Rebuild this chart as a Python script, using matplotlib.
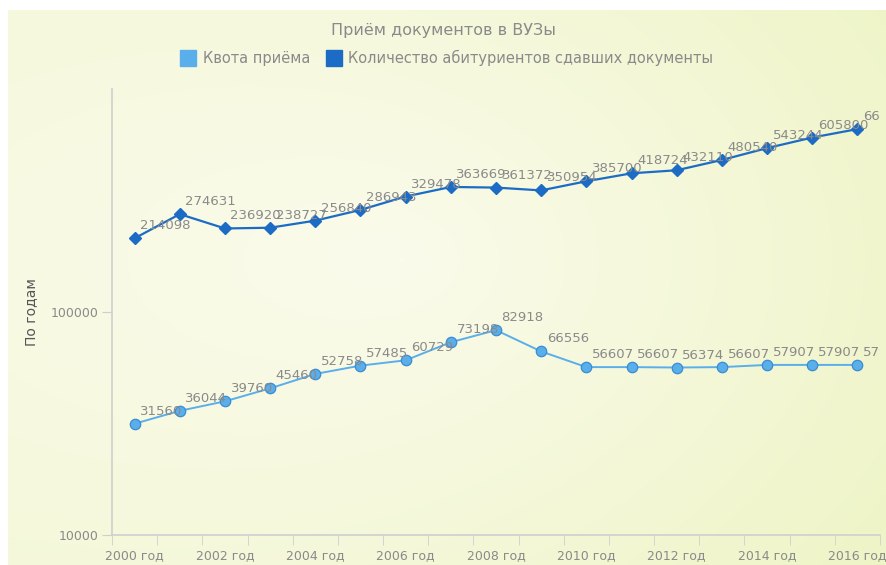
import numpy as np
import matplotlib
matplotlib.use('Agg')
import matplotlib.pyplot as plt
from matplotlib.lines import Line2D

plt.rcParams['font.family'] = ['DejaVu Sans']

years = list(range(2000, 2017))
year_labels = [str(y) + ' год' for y in years]
quota = [31560, 36044, 39760, 45460, 52758, 57485, 60729, 73198, 82918,
         66556, 56607, 56607, 56374, 56607, 57907, 57907, 57907]
applicants = [214098, 274631, 236920, 238727, 256840, 286943, 329478, 363669, 361372,
              350954, 385700, 418724, 432110, 480540, 543244, 605800, 661000]
series_names = ['Квота приёма', 'Количество абитуриентов сдавших документы']

text_col = '#8a8a8a'
c_quota = '#5aaeea'
c_quota_edge = '#3a8cd2'
c_app = '#1c6cc6'

fig = plt.figure(figsize=(8.86, 5.65), dpi=100)

# background gradient (light in the middle, more yellow at the edges / right)
bg = fig.add_axes([8/886, 0, 1 - 8/886, 555/565])
bg.set_axis_off()
xx, yy = np.meshgrid(np.linspace(0, 1, 300), np.linspace(0, 1, 200))
d = np.clip(np.sqrt(((xx - 0.45) / 0.9) ** 2 + ((yy - 0.55) / 0.9) ** 2), 0, 1)
c0 = np.array([0.99, 0.99, 0.95])
c1 = np.array([0.93, 0.955, 0.76])
t = np.clip(d * 0.65 + xx * 0.35, 0, 1)[..., None]
img = c0 * (1 - t) + c1 * t
bg.imshow(img, aspect='auto', extent=[0, 1, 0, 1], origin='lower')

ax = fig.add_axes([112/886, 30/565, 768/886, 446/565])
ax.patch.set_alpha(0)
ax.set_yscale('log')
ax.set_ylim(1e4, 1e6)
ax.set_xlim(-0.5, len(years) - 0.5)

x = np.arange(len(years))
ax.plot(x, quota, color=c_quota, lw=1.4, marker='o', ms=7.5,
        mfc=c_quota, mec=c_quota_edge, mew=0.9, zorder=3)
ax.plot(x, applicants, color=c_app, lw=1.6, marker='D', ms=6,
        mfc=c_app, mec=c_app, zorder=3)

for xi, v in zip(x, quota):
    ax.annotate(str(v), (xi, v), xytext=(4, 9), textcoords='offset points',
                ha='left', va='center', fontsize=9.5, color=text_col, clip_on=True, zorder=4)
for xi, v in zip(x, applicants):
    ax.annotate(str(v), (xi, v), xytext=(4, 9), textcoords='offset points',
                ha='left', va='center', fontsize=9.5, color=text_col, clip_on=True, zorder=4)

ax.set_xticks(x[::2])
ax.set_xticklabels(year_labels[::2])
ax.set_xticks(np.arange(-0.5, len(years)), minor=True)
ax.tick_params(axis='x', which='major', length=0, pad=10, labelsize=9, labelcolor=text_col)
ax.tick_params(axis='x', which='minor', length=7, color='#cfcfcf', direction='out')

ax.set_yticks([1e4, 1e5])
ax.set_yticklabels(['10000', '100000'])
ax.yaxis.set_minor_locator(matplotlib.ticker.NullLocator())
ax.tick_params(axis='y', which='major', length=7, color='#cfcfcf', labelsize=9,
               labelcolor=text_col, pad=3)

for s in ['top', 'right']:
    ax.spines[s].set_visible(False)
for s in ['left', 'bottom']:
    ax.spines[s].set_color('#cfcfcf')
    ax.spines[s].set_linewidth(1.2)

ax.set_ylabel('По годам', fontsize=10, color='#555555', labelpad=9)

fig.text(0.5, 535/565, 'Приём документов в ВУЗы', ha='center', va='center',
         fontsize=11.5, color=text_col)

handles = [Line2D([], [], ls='none', marker='s', ms=11, mfc=c_quota, mec=c_quota),
           Line2D([], [], ls='none', marker='s', ms=11, mfc=c_app, mec=c_app)]
leg = fig.legend(handles, series_names, loc='center', bbox_to_anchor=(448/886, 1 - 58/565),
                 ncol=2, frameon=False, fontsize=10.5, handlelength=0.8, handletextpad=0.6,
                 columnspacing=1.2)
for txt in leg.get_texts():
    txt.set_color(text_col)

fig.savefig('out.png', dpi=100)
